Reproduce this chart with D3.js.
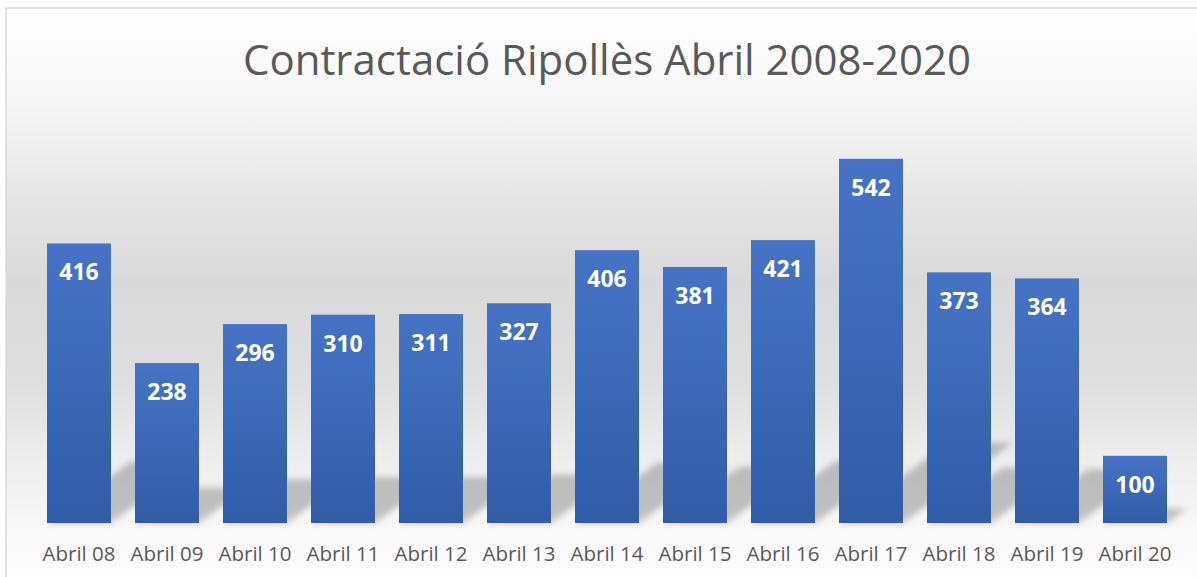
<!DOCTYPE html>
<html>
<head>
<meta charset="utf-8">
<script src="https://cdn.jsdelivr.net/npm/d3@7"></script>
<style>
  html, body { margin: 0; padding: 0; background: #fff; }
  svg { display: block; }
</style>
</head>
<body>
<div id="chart"></div>
<script>
const categories = ["Abril 08", "Abril 09", "Abril 10", "Abril 11", "Abril 12", "Abril 13", "Abril 14",
  "Abril 15", "Abril 16", "Abril 17", "Abril 18", "Abril 19", "Abril 20"]
const values = [416, 238, 296, 310, 311, 327, 406, 381, 421, 542, 373, 364, 100]
const title = "Contractació Ripollès Abril 2008-2020"

const width = 1197, height = 577
const baseY = 523

const svg = d3.select("#chart").append("svg")
  .attr("width", width)
  .attr("height", height)

const defs = svg.append("defs")

// chart area background: vertical grey band in the middle
const bg = defs.append("linearGradient")
  .attr("id", "bg")
  .attr("gradientUnits", "userSpaceOnUse")
  .attr("x1", 0).attr("y1", 8).attr("x2", 0).attr("y2", 577)
const bgStops = [[0, "#ffffff"], [0.16, "#f7f7f7"], [0.34, "#e5e5e5"], [0.48, "#d9d9d9"], [0.66, "#dfdfdf"],
  [0.8, "#eeeeee"], [0.92, "#f9f9f9"], [1, "#fdfdfd"]]
bg.selectAll("stop").data(bgStops).enter().append("stop")
  .attr("offset", d => d[0])
  .attr("stop-color", d => d[1])

const barGrad = defs.append("linearGradient")
  .attr("id", "bar")
  .attr("x1", 0).attr("y1", 0).attr("x2", 0).attr("y2", 1)
barGrad.append("stop").attr("offset", 0).attr("stop-color", "#4673c5")
barGrad.append("stop").attr("offset", 1).attr("stop-color", "#325ca8")

defs.append("filter")
  .attr("id", "blur")
  .attr("x", "-20%").attr("y", "-20%").attr("width", "140%").attr("height", "140%")
  .append("feGaussianBlur").attr("stdDeviation", 3)

svg.append("rect")
  .attr("x", 6).attr("y", 8)
  .attr("width", 1210).attr("height", 600)
  .attr("fill", "url(#bg)")
  .attr("stroke", "#d9d9d9")
  .attr("stroke-width", 1.5)

const x = d3.scaleBand()
  .domain(categories)
  .range([35, 1179])
  .paddingInner(0.2727)
  .paddingOuter(0.1364)

const y = d3.scaleLinear()
  .domain([0, 600])
  .range([baseY, baseY - 600 * 0.672])

// perspective shadows, leaning up and to the right
const skewX = 0.3, skewY = 0.22
svg.append("g")
  .attr("filter", "url(#blur)")
  .selectAll("polygon")
  .data(values)
  .enter().append("polygon")
    .attr("points", (d, i) => {
      const x0 = x(categories[i]), x1 = x0 + x.bandwidth()
      const h = baseY - y(d)
      return [[x0, baseY], [x1, baseY], [x1 + h * skewX, baseY - h * skewY], [x0 + h * skewX, baseY - h * skewY]]
        .map(p => p.join(",")).join(" ")
    })
    .attr("fill", "#000")
    .attr("fill-opacity", 0.22)

svg.append("g")
  .selectAll("rect")
  .data(values)
  .enter().append("rect")
    .attr("x", (d, i) => x(categories[i]))
    .attr("y", d => y(d))
    .attr("width", x.bandwidth())
    .attr("height", d => baseY - y(d))
    .attr("fill", "url(#bar)")

svg.append("g")
  .selectAll("text")
  .data(values)
  .enter().append("text")
    .attr("x", (d, i) => x(categories[i]) + x.bandwidth() / 2)
    .attr("y", d => y(d) + 29)
    .attr("dy", "0.35em")
    .attr("text-anchor", "middle")
    .attr("fill", "#fff")
    .style("font", "bold 23px 'Open Sans', sans-serif")
    .text(d => d)

// category axis, no line or ticks
const xAxis = svg.append("g")
  .attr("transform", `translate(0,${baseY})`)
  .call(d3.axisBottom(x).tickSize(0).tickPadding(23))
xAxis.select(".domain").remove()
xAxis.selectAll("text")
  .attr("fill", "#595959")
  .attr("dy", "0.71em")
  .style("font", "20.5px 'Open Sans', sans-serif")

svg.append("text")
  .attr("x", 607)
  .attr("y", 75)
  .attr("text-anchor", "middle")
  .attr("fill", "#595959")
  .attr("textLength", 728)
  .attr("lengthAdjust", "spacingAndGlyphs")
  .style("font", "42px 'Open Sans', sans-serif")
  .text(title)
</script>
</body>
</html>
